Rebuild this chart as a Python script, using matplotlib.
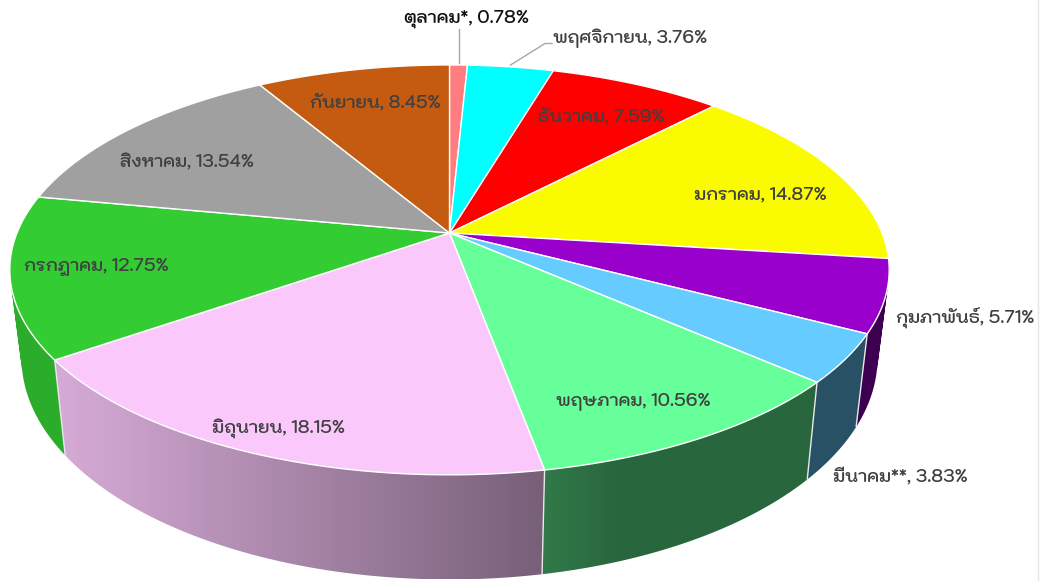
import numpy as np
import matplotlib
matplotlib.use('Agg')
import matplotlib.pyplot as plt
from matplotlib.patches import Polygon
from matplotlib.path import Path

months = ['ตุลาคม*', 'พฤศจิกายน', 'ธันวาคม', 'มกราคม', 'กุมภาพันธ์', 'มีนาคม**',
          'พฤษภาคม', 'มิถุนายน', 'กรกฎาคม', 'สิงหาคม', 'กันยายน']
shares = [0.78, 3.76, 7.59, 14.87, 5.71, 3.83, 10.56, 18.15, 12.75, 13.54, 8.45]

colors = ['#ff7c80', '#00ffff', '#ff0000', '#fbfb00', '#9900cc', '#66ccff',
          '#66ff99', '#fac8fb', '#33cc33', '#a0a0a0', '#c55a11']
label_xy = [(467, 19), (630, 38.5), (601, 116.5), (760, 194.5), (965, 317.5), (900, 478),
            (633, 401.5), (278, 428.5), (96, 266.5), (187, 162.5), (375, 103.5)]
label_color = ['#111111'] + ['#404040'] * 10

FONT = 'Kodchasan'

# perspective of the disc: top face and lower rim, in figure pixels
CX, CY_TOP, A_TOP, B_TOP = 449.5, 233, 432.5, 198.3
CY_BOT, A_BOT, B_BOT = 318, 421, 214.4
PERSP = -0.18


def project(theta, cy, a, b):
    X, Y = np.sin(theta), np.cos(np.pi - theta)
    den = 1 + PERSP * Y
    return CX + a * X / den, cy + b * Y / den


def top(theta):
    return project(theta, CY_TOP, A_TOP, B_TOP)


def bottom(theta):
    return project(theta, CY_BOT, A_BOT, B_BOT)


def wall_shade(x):
    return np.interp(x, [64, 541, 620], [0.85, 0.48, 0.40])


def wall_outline(th):
    """All small wall quads as one path, each wound the same way."""
    tx, ty = top(th)
    bx, by = bottom(th)
    parts = []
    for k in range(len(th) - 1):
        q = np.array([(tx[k], ty[k]), (tx[k + 1], ty[k + 1]), (bx[k + 1], by[k + 1]), (bx[k], by[k])])
        x, y = q[:, 0], q[:, 1]
        if np.dot(x, np.roll(y, -1)) - np.dot(y, np.roll(x, -1)) < 0:
            q = q[::-1]
        parts.append(Path(np.vstack([q, q[:1]]), closed=True))
    return Path.make_compound_path(*parts)


fig = plt.figure(figsize=(10.4, 5.81), dpi=100, facecolor='white')
ax = fig.add_axes([0, 0, 1, 1])

edges = 2 * np.pi * np.concatenate([[0], np.cumsum(shares)]) / np.sum(shares)

# side walls: a left-to-right shade clipped to each wall's outline
for i, col in enumerate(colors):
    th = np.linspace(edges[i], edges[i + 1], 80)
    outline = wall_outline(th)
    xs, ys = outline.vertices[:, 0], outline.vertices[:, 1]
    x0, x1 = xs.min(), xs.max()
    grid_x = np.linspace(x0, x1, 400)
    rgb = np.array(matplotlib.colors.to_rgb(col))
    shade = wall_shade(grid_x)[None, :, None] * rgb[None, None, :]
    im = ax.imshow(shade, extent=(x0, x1, ys.max(), ys.min()), aspect='auto',
                   interpolation='bilinear', zorder=2)
    im.set_clip_path(outline, transform=ax.transData)

# white seams between visible walls
for e in edges:
    if np.cos(np.pi - e) > 0.3:
        tx, ty = top(e)
        bx, by = bottom(e)
        ax.plot([tx, bx], [ty, by], color='#e8e8e8', lw=1.0, zorder=3, solid_capstyle='butt')

# top faces
for i, col in enumerate(colors):
    th = np.linspace(edges[i], edges[i + 1], 120)
    x, y = top(th)
    pts = np.column_stack([np.r_[CX, x], np.r_[CY_TOP, y]])
    ax.add_patch(Polygon(pts, closed=True, facecolor=col, edgecolor='white', lw=1.0,
                         joinstyle='round', zorder=4))

# leader lines
ax.plot([459, 459], [29, 63], color='#a6a6a6', lw=1.0, zorder=5)
ax.plot([510.5, 545, 552], [65, 43.5, 43.5], color='#a6a6a6', lw=1.0, zorder=5)

for name, share, (lx, ly), tc in zip(months, shares, label_xy, label_color):
    ax.text(lx, ly, f'{name}, {share:.2f}%', ha='center', va='center', fontsize=12.5,
            family=FONT, weight='semibold', color=tc, zorder=6)

# faint frame edge of the source picture
ax.plot([1038, 1038], [0, 581], color='#e6e6e6', lw=1.0, zorder=1)

ax.set_xlim(0, 1040)
ax.set_ylim(581, 0)
ax.axis('off')

fig.savefig('out.png', dpi=100, facecolor='white')
